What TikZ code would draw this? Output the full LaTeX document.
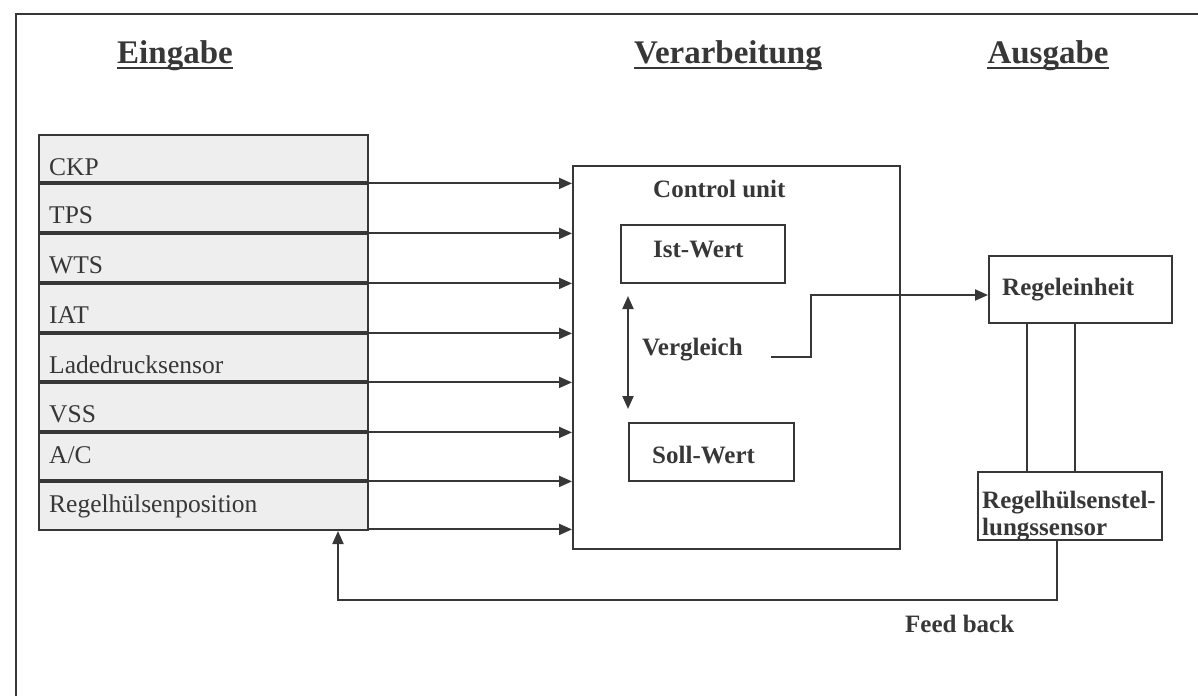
\documentclass[tikz,border=0pt]{standalone}
\usepackage{fontspec}
\setmainfont{Liberation Serif}
\usetikzlibrary{arrows.meta}
\definecolor{ink}{RGB}{55,55,55}
\begin{document}
\begin{tikzpicture}[x=1pt,y=-1pt,
  frameline/.style={draw=ink,line width=2pt},
  inbox/.style={draw=ink,line width=2pt,fill=gray!13,inner sep=0pt,anchor=north west},
  rowbox/.style={inner sep=0pt,anchor=north west,minimum width=329pt},
  sepline/.style={draw=ink,line width=4pt},
  arr/.style={draw=ink,line width=2pt,-{Triangle[length=13pt,width=11pt]}},
  darr/.style={draw=ink,line width=2pt,{Triangle[length=13pt,width=11pt]}-{Triangle[length=13pt,width=11pt]}},
  plain/.style={draw=ink,line width=2pt},
  box/.style={draw=ink,line width=2pt,inner sep=0pt},
  rowlbl/.style={inner sep=0pt,anchor=base west,text=ink,font=\fontsize{25.5}{30}\selectfont},
  blbl/.style={inner sep=0pt,anchor=base west,text=ink,font=\fontsize{25}{31}\selectfont\bfseries},
  title/.style={inner sep=0pt,anchor=base,text=ink,font=\fontsize{33}{38}\selectfont\bfseries},
  uline/.style={draw=ink,line width=2.2pt}]
\useasboundingbox (0,0) rectangle (1198,696);
% frame (top and left edges)
\draw[frameline] (16,696) -- (16,14) -- (1198,14);
% titles
\node[title] (t1) at (175,63) {Eingabe};
\node[title] (t2) at (728,63) {Verarbeitung};
\node[title] (t3) at (1048,63) {Ausgabe};
\foreach \t in {t1,t2,t3}{\draw[uline] ([yshift=-5pt]\t.base west) -- ([yshift=-5pt]\t.base east);}
% input box
\node[inbox,minimum width=329pt,minimum height=395pt] (inp) at (38,134) {};
\node[rowbox,minimum height=49pt] (r1) at (38,134) {};
\node[rowbox,minimum height=50pt] (r2) at (38,183) {};
\node[rowbox,minimum height=50pt] (r3) at (38,233) {};
\node[rowbox,minimum height=50pt] (r4) at (38,283) {};
\node[rowbox,minimum height=49pt] (r5) at (38,333) {};
\node[rowbox,minimum height=50pt] (r6) at (38,382) {};
\node[rowbox,minimum height=49pt] (r7) at (38,432) {};
\node[rowbox,minimum height=48pt] (r8) at (38,481) {};
\foreach \r in {r1,r2,r3,r4,r5,r6,r7}{\draw[sepline] (\r.south west) -- (\r.south east);}
\node[rowlbl] (l1) at (49,175) {CKP};
\node[rowlbl] (l2) at (49,223) {TPS};
\node[rowlbl] (l3) at (49,273) {WTS};
\node[rowlbl] (l4) at (49,323) {IAT};
\node[rowlbl] (l5) at (49,373) {Ladedrucksensor};
\node[rowlbl] (l6) at (49,422) {VSS};
\node[rowlbl] (l7) at (49,463) {A/C};
\node[rowlbl] (l8) at (49,512) {Regelhülsenposition};
% control unit
\node[box,minimum width=327pt,minimum height=383pt] (cu) at (736.5,357.5) {};
\foreach \r in {r1,r2,r3,r4,r5,r6,r7,r8}{\draw[arr] (\r.south east) -- (\r.south east -| cu.west);}
\node[blbl] (cul) at (653,197) {Control unit};
\node[box,minimum width=164pt,minimum height=58pt] (ist) at (703,254) {};
\node[blbl] (istl) at (653,257) {Ist-Wert};
\node[box,minimum width=165pt,minimum height=58pt] (soll) at (711.5,452) {};
\node[blbl] (solll) at (652,463) {Soll-Wert};
\draw[darr] ([xshift=8pt,yshift=-12pt]ist.south west) -- ([yshift=13pt]soll.north west);
\node[blbl] (verg) at (642,355) {Vergleich};
% output side
\node[box,minimum width=183pt,minimum height=67pt] (reg) at (1080.5,289.5) {};
\node[blbl] (regl) at (1002,295) {Regeleinheit};
\draw[arr] ([xshift=28pt,yshift=-2pt]verg.base east) -- ++(40,0) |- ([yshift=-5.5pt]reg.west);
\node[box,minimum width=184pt,minimum height=68pt] (sens) at (1070,506) {};
\node[blbl] (sl1) at (982,508) {Regelhülsenstel-};
\node[blbl] (sl2) at (982,535) {lungssensor};
\draw[plain] ([xshift=39pt]reg.south west) -- ([xshift=39pt]reg.south west |- sens.north);
\draw[plain] ([xshift=87pt]reg.south west) -- ([xshift=87pt]reg.south west |- sens.north);
% feedback
\coordinate (fb) at (338,600);
\draw[arr] ([xshift=-13pt]sens.south) |- (fb) -- (fb |- inp.south);
\node[blbl] (fbl) at (905,632) {Feed back};
\end{tikzpicture}
\end{document}
